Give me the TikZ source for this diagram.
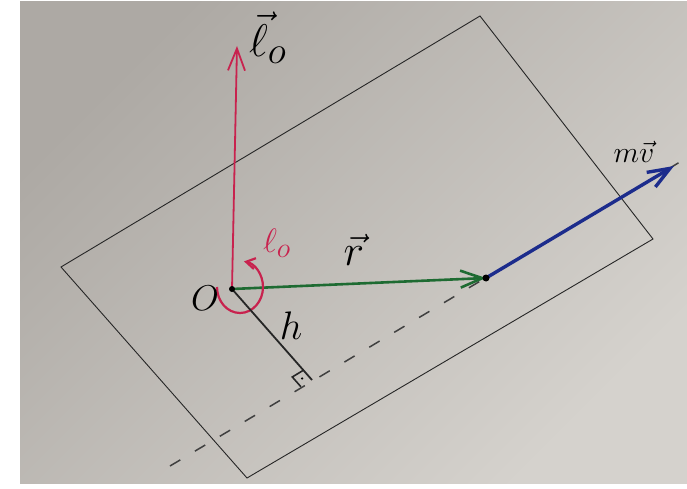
\documentclass[tikz,border=0pt]{standalone}
\usepackage{amsmath}
\usetikzlibrary{arrows.meta, calc}
\definecolor{paperdark}{HTML}{ADA9A4}
\definecolor{papermid}{HTML}{C8C5C0}
\definecolor{paperlight}{HTML}{D5D2CD}
\definecolor{momred}{HTML}{C8224E}
\definecolor{posgreen}{HTML}{1E6B32}
\definecolor{velblue}{HTML}{1C2C8C}

\begin{document}
\begin{tikzpicture}[
    x=1pt, y=-1pt,
    plane/.style={draw=black!85, line width=0.9pt, line join=miter},
    vecarrow/.style={line width=#1, line cap=round, -{Straight Barb[length=22pt, width=17pt]}},
    actionline/.style={draw=black!75, line width=1.5pt, dash pattern=on 12pt off 17pt},
    hline/.style={draw=black!85, line width=1.8pt},
    dotmark/.style={circle, fill=black, inner sep=0pt, minimum size=#1},
    handlabel/.style={inner sep=0pt, font=\Huge, scale=#1/25, transform shape},
]
    % photo background
    \fill[white] (0,0) rectangle (687,489);
    \shade[top color=paperdark, middle color=papermid, bottom color=paperlight, shading angle=45]
        (20,2) rectangle (687,483);
    \useasboundingbox (0,0) rectangle (687,489);

    % points
    \coordinate (A) at (480,16);
    \coordinate (B) at (653,239);
    \coordinate (C) at (247,478);
    \coordinate (D) at (61,267);
    \coordinate (O) at (232,289);
    \coordinate (Ltip) at (237,46);
    \coordinate (P) at (486,278);
    \coordinate (Vtip) at (674,166);
    \coordinate (Dstart) at (170,466);
    \coordinate (Dend) at (690,156);
    \coordinate (F) at (312,380);
    \coordinate (Cc) at (240,287);

    % line of action and plane
    \draw[actionline] (Dstart) -- (Dend);
    \draw[plane] (A) -- (B) -- (C) -- (D) -- cycle;

    % vectors
    \draw[vecarrow=1.8pt, draw=momred] (O) -- (Ltip);
    \draw[vecarrow=2.6pt, draw=posgreen] (O) -- (P);
    \draw[vecarrow=3.4pt, draw=velblue] (P) -- (Vtip);
    \draw[momred, line width=2.2pt, -{Straight Barb[length=9pt, width=11pt]}]
        ([shift={(180:23 and 26)}]Cc) arc[start angle=180, end angle=-80, x radius=23, y radius=26];

    % distance h and right angle
    \draw[hline] (O) -- (F);
    \coordinate (Fa) at ($(F)!13pt!(O)$);
    \coordinate (Fb) at ($(F)!13pt!(Dstart)$);
    \coordinate (Fc) at ($(Fa)+(Fb)-(F)$);
    \draw[black!85, line width=1.6pt] (Fa) -- (Fc) -- (Fb);
    \node[dotmark=2.5pt] (Fdot) at ($(F)!0.5!(Fc)$) {};

    \node[dotmark=6pt] (Odot) at (O) {};
    \node[dotmark=7pt] (Pdot) at (P) {};

    % labels
    \node[handlabel=46] (lvec) at (268,38) {$\vec{\ell}_{o}$};
    \node[handlabel=34, text=momred] (lrot) at (277,243) {$\ell_{o}$};
    \node[handlabel=36] (olabel) at (205,298) {$O$};
    \node[handlabel=40] (hlabel) at (291,326) {$h$};
    \node[handlabel=44] (rlabel) at (354,250) {$\vec{r}$};
    \node[handlabel=30] (mvlabel) at (634,152) {$m\vec{v}$};
\end{tikzpicture}
\end{document}
